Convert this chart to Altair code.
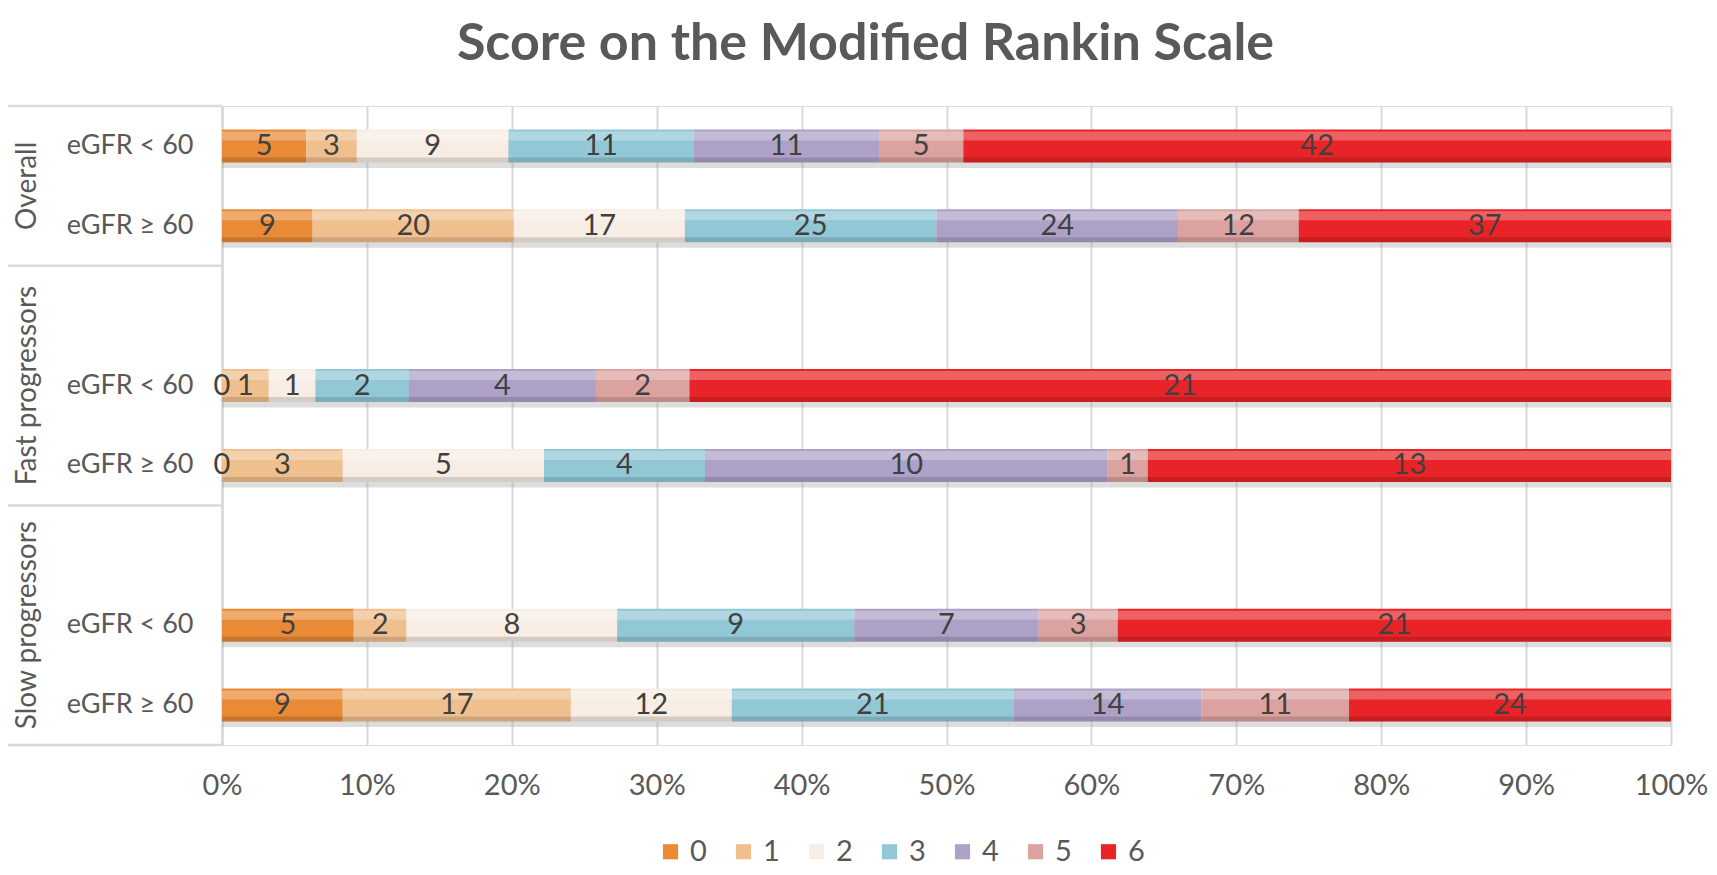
import altair as alt
import pandas as pd

# ---- data -------------------------------------------------------------
scores = ["0", "1", "2", "3", "4", "5", "6"]
colors = ["#E98A36", "#F0BF8E", "#F7EDE4", "#92C8D6", "#AEA1C7", "#DBA2A0", "#E82428"]

row_order = ["O_lt", "O_ge", "F_gap", "F_lt", "F_ge", "S_gap", "S_lt", "S_ge"]
row_text = ["eGFR < 60", "eGFR \u2265 60", "", "eGFR < 60", "eGFR \u2265 60", "",
            "eGFR < 60", "eGFR \u2265 60"]

overall_lt = [5, 3, 9, 11, 11, 5, 42]
overall_ge = [9, 20, 17, 25, 24, 12, 37]
fast_lt = [0, 1, 1, 2, 4, 2, 21]
fast_ge = [0, 3, 5, 4, 10, 1, 13]
slow_lt = [5, 2, 8, 9, 7, 3, 21]
slow_ge = [9, 17, 12, 21, 14, 11, 24]

series = {"O_lt": overall_lt, "O_ge": overall_ge, "F_lt": fast_lt,
          "F_ge": fast_ge, "S_lt": slow_lt, "S_ge": slow_ge}

groups = ["Overall", "Fast progressors", "Slow progressors"]
group_rows = ["O_lt", "F_lt", "S_lt"]
group_band = [1.0, 0.5, 0.5]

x_ticks = [0, 0.1, 0.2, 0.3, 0.4, 0.5, 0.6, 0.7, 0.8, 0.9, 1.0]

# ---- tables -----------------------------------------------------------
records = []
for r, vals in series.items():
    for s, v in zip(scores, vals):
        records.append({"row": r, "score": s, "value": v})
df = pd.DataFrame(records)

gdf = pd.DataFrame({"group": groups, "row": group_rows, "band": group_band})
sep_top = pd.DataFrame({"row": ["O_lt", "F_gap", "S_gap"]})
sep_bot = pd.DataFrame({"row": ["S_ge"]})

label_expr = " : ".join(
    f"datum.value == '{r}' ? '{t}'" for r, t in zip(row_order, row_text)
) + " : ''"

FONT = "Lato"
GREY = "#595959"
LINE = "#D9D9D9"
LEFT = 214

y_scale = alt.Scale(domain=row_order, paddingInner=0, paddingOuter=0)
x_scale = alt.Scale(domain=[0, 1])

y_axis = alt.Axis(title=None, labelExpr=label_expr, labelFont=FONT, labelFontSize=27,
                  labelColor=GREY, labelPadding=29, ticks=False, domain=True,
                  domainColor=LINE, domainWidth=2.5, grid=False)
x_axis = alt.Axis(title=None, format="%", values=x_ticks, labelFont=FONT, labelFontSize=29,
                  labelColor=GREY, labelPadding=26, ticks=False, domain=False,
                  labelFlush=False, grid=True, gridColor=LINE, gridWidth=2)

base = alt.Chart(df)
Y = alt.Y("row:N", scale=y_scale)
X_stack = alt.X("value:Q", stack="normalize", scale=x_scale)
ORDER = alt.Order("score:N", sort="ascending")

# soft drop shadow under each bar
shadow = base.mark_bar(size=30, yOffset=7, color="#9E9E9E", opacity=0.35).encode(
    x=X_stack, y=Y, detail="score:N", order=ORDER)

bars = base.mark_bar(size=33).encode(
    x=alt.X("value:Q", stack="normalize", scale=x_scale, axis=x_axis),
    y=alt.Y("row:N", scale=y_scale, axis=y_axis),
    color=alt.Color("score:N", scale=alt.Scale(domain=scores, range=colors),
                    legend=alt.Legend(title=None, orient="none", legendX=434, legendY=731,
                                      direction="horizontal", columns=7,
                                      symbolType="square", symbolSize=230,
                                      symbolStrokeWidth=0, labelFont=FONT,
                                      labelFontSize=29, labelColor=GREY,
                                      labelOffset=5, columnPadding=22)),
    order=ORDER,
)

# bevel: light top band and darker bottom edge
hilite = base.mark_bar(size=9, yOffset=-10, color="white", opacity=0.28).encode(
    x=X_stack, y=Y, detail="score:N", order=ORDER)
lowedge = base.mark_bar(size=5, yOffset=14, color="black", opacity=0.14).encode(
    x=X_stack, y=Y, detail="score:N", order=ORDER)

labels = base.transform_joinaggregate(
    total="sum(value)", groupby=["row"]
).transform_window(
    cum="sum(value)", groupby=["row"], sort=[alt.SortField("score")], frame=[None, 0]
).transform_calculate(
    mid="(datum.cum - datum.value / 2) / datum.total"
).mark_text(font=FONT, fontSize=29, color="#404040").encode(
    x=alt.X("mid:Q", scale=x_scale),
    y=Y,
    text="value:Q",
)

gbase = alt.Chart(gdf)
glab_mid = gbase.transform_filter("datum.band == 0.5").mark_text(
    font=FONT, fontSize=28, color=GREY, angle=270
).encode(x=alt.value(-194), y=alt.Y("row:N", scale=y_scale, bandPosition=0.5), text="group:N")
glab_edge = gbase.transform_filter("datum.band == 1").mark_text(
    font=FONT, fontSize=28, color=GREY, angle=270
).encode(x=alt.value(-194), y=alt.Y("row:N", scale=y_scale, bandPosition=1), text="group:N")

rule_top = alt.Chart(sep_top).mark_rule(color=LINE, strokeWidth=2.5).encode(
    y=alt.Y("row:N", scale=y_scale, bandPosition=0), x=alt.value(-LEFT), x2=alt.value(0))
rule_bot = alt.Chart(sep_bot).mark_rule(color=LINE, strokeWidth=2.5).encode(
    y=alt.Y("row:N", scale=y_scale, bandPosition=1), x=alt.value(-LEFT), x2=alt.value(0))

chart = alt.layer(shadow, bars, hilite, lowedge, labels, glab_mid, glab_edge,
                  rule_top, rule_bot).properties(
    width=1449, height=639,
    title=alt.TitleParams("Score on the Modified Rankin Scale", font=FONT, fontSize=52,
                          fontWeight="bold", color=GREY, anchor="middle", dx=-81,
                          offset=34),
    autosize=alt.AutoSizeParams(type="none"),
    padding={"left": LEFT, "top": 98, "right": 38, "bottom": 122},
).configure_view(stroke=None).configure(background="white")

chart.save("out.html", embed_options={"renderer": "svg", "actions": False})
